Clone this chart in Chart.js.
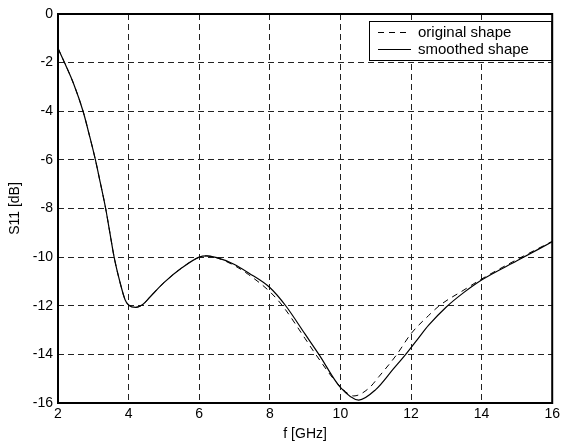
<!DOCTYPE html>
<html>
<head>
<meta charset="utf-8">
<script src="https://cdn.jsdelivr.net/npm/chart.js@4/dist/chart.umd.min.js"></script>
<style>
  html, body { margin: 0; padding: 0; background: #fff; }
  #wrap { width: 563px; height: 443px; }
</style>
</head>
<body>
<div id="wrap"><canvas id="s11Chart" width="563" height="443"></canvas></div>
<script>
// Frequency ticks [GHz] and S11 ticks [dB]
const xTicks = [2, 4, 6, 8, 10, 12, 14, 16];
const yTicks = [0, -2, -4, -6, -8, -10, -12, -14, -16];

// original shape
const origFreq = [2.0, 2.2, 2.45, 2.71, 2.9, 3.06, 3.2, 3.35, 3.47, 3.59, 3.75, 3.9, 4.0, 4.2, 4.4, 4.6, 5.0, 5.5, 6.0, 6.2, 6.5,
                  7.0, 7.4, 8.0, 8.36, 9.0, 9.3, 10.0, 10.38, 10.8, 11.1, 11.6, 12.0, 12.5, 12.8, 13.5, 14.0, 15.0, 16.0];
const origS11 = [-1.41, -2.05, -2.9, -4, -5.05, -6, -6.95, -8, -9, -10, -11, -11.75, -11.97, -12.07, -11.95, -11.65, -11.05, -10.45, -10.0, -9.95, -10.03,
                 -10.35, -10.72, -11.42, -12, -13.35, -14, -15.33, -15.71, -15.4, -14.9, -14.0, -13.15, -12.4, -12.0, -11.35, -10.9, -10.1, -9.35];

// smoothed shape
const smoothFreq = [2.0, 2.2, 2.45, 2.71, 2.9, 3.06, 3.2, 3.35, 3.47, 3.59, 3.75, 3.9, 4.0, 4.2, 4.4, 4.6, 5.0, 5.5, 6.0, 6.2, 6.5,
                    7.0, 7.4, 8.0, 8.45, 9.0, 9.39, 10.0, 10.52, 11.0, 11.5, 11.85, 12.2, 12.5, 13.0, 13.5, 14.0, 15.0, 16.0];
const smoothS11 = [-1.41, -2.05, -2.9, -4, -5.05, -6, -6.95, -8, -9, -10, -11, -11.75, -11.97, -12.07, -11.95, -11.65, -11.05, -10.45, -10.0, -9.95, -10.02,
                   -10.3, -10.65, -11.25, -12, -13.17, -14, -15.36, -15.88, -15.45, -14.6, -14, -13.35, -12.8, -12.05, -11.45, -10.94, -10.15, -9.37];

const toPoints = (xs, ys) => xs.map((x, i) => ({ x: x, y: ys[i] }));

Chart.defaults.font.family = "'Liberation Sans', Arial, sans-serif";
Chart.defaults.font.size = 14;
Chart.defaults.color = '#000';

// box around the axes + legend inside top right corner
const framePlugin = {
    id: 'frame',
    afterDraw(chart) {
        const ctx = chart.ctx;
        const a = chart.chartArea;
        ctx.save();
        ctx.strokeStyle = '#000';
        ctx.lineWidth = 2;
        ctx.setLineDash([]);
        ctx.strokeRect(a.left, a.top, a.right - a.left, a.bottom - a.top);

        // legend
        const bx = 369, by = 21, bw = a.right - 1 - bx, bh = 39;
        ctx.fillStyle = '#fff';
        ctx.fillRect(bx, by, bw, bh);
        ctx.lineWidth = 1;
        ctx.strokeRect(bx + 0.5, by + 0.5, bw, bh);
        ctx.font = "15px 'Liberation Sans', Arial, sans-serif";
        ctx.textBaseline = 'middle';
        ctx.fillStyle = '#000';
        chart.data.datasets.forEach((ds, i) => {
            const y = by + 11.5 + i * 17;
            ctx.setLineDash(ds.borderDash || []);
            ctx.beginPath();
            ctx.moveTo(378, y);
            ctx.lineTo(411, y);
            ctx.stroke();
            ctx.setLineDash([]);
            ctx.fillText(ds.label, 418, y);
        });
        ctx.restore();
    }
};

const ctx = document.getElementById('s11Chart').getContext('2d');
new Chart(ctx, {
    type: 'line',
    data: {
        datasets: [{
            label: 'original shape',
            data: toPoints(origFreq, origS11),
            borderColor: '#000',
            borderWidth: 1,
            borderDash: [6, 5],
            pointRadius: 0,
            cubicInterpolationMode: 'monotone'
        }, {
            label: 'smoothed shape',
            data: toPoints(smoothFreq, smoothS11),
            borderColor: '#000',
            borderWidth: 1.2,
            pointRadius: 0,
            cubicInterpolationMode: 'monotone'
        }]
    },
    options: {
        responsive: false,
        animation: false,
        layout: { padding: { top: 14, right: 9, left: 0, bottom: 0 } },
        plugins: {
            legend: { display: false },
            tooltip: { enabled: false }
        },
        scales: {
            x: {
                type: 'linear',
                min: 2,
                max: 16,
                afterBuildTicks: (scale) => { scale.ticks = xTicks.map(v => ({ value: v })); },
                ticks: { padding: 3, maxRotation: 0 },
                grid: { color: '#222', lineWidth: 1, drawTicks: false },
                border: { display: false, dash: [6, 4] },
                title: { display: true, text: 'f [GHz]', font: { size: 14 }, padding: { top: 0, bottom: 0 } },
                afterFit: (scale) => { scale.height = 40; }
            },
            y: {
                type: 'linear',
                min: -16,
                max: 0,
                afterBuildTicks: (scale) => { scale.ticks = yTicks.map(v => ({ value: v })); },
                ticks: { padding: 5 },
                grid: { color: '#222', lineWidth: 1, drawTicks: false },
                border: { display: false, dash: [6, 4] },
                title: { display: true, text: 'S11 [dB]', font: { size: 14 }, padding: { top: 7, bottom: 0 } },
                afterFit: (scale) => { scale.width = 58; }
            }
        }
    },
    plugins: [framePlugin]
});
</script>
</body>
</html>
